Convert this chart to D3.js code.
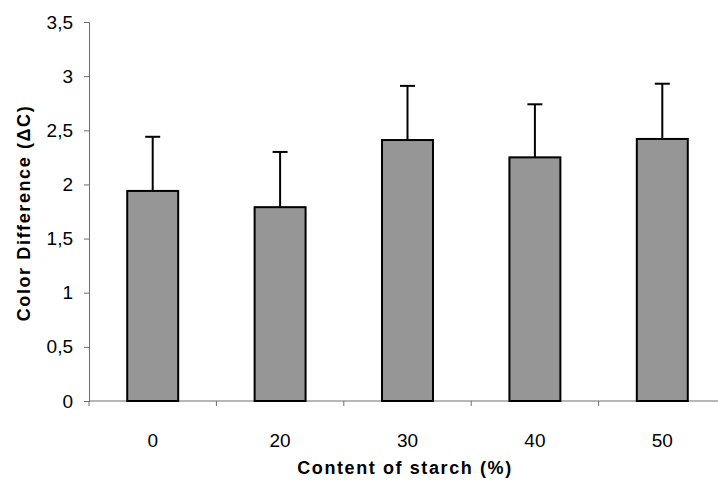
<!DOCTYPE html>
<html>
<head>
<meta charset="utf-8">
<script src="https://cdn.jsdelivr.net/npm/d3@7"></script>
<style>
  html, body { margin: 0; padding: 0; background: #fff; }
  svg { display: block; }
  text { font-family: "Liberation Sans", Arial, sans-serif; }
</style>
</head>
<body>
<svg id="chart" width="718" height="483"></svg>
<script>
const categories = ["0", "20", "30", "40", "50"];
const values = [1.94, 1.79, 2.41, 2.25, 2.42];
const errors = [0.50, 0.51, 0.50, 0.49, 0.51];
const yTicks = [0, 0.5, 1, 1.5, 2, 2.5, 3, 3.5];
const xTitle = "Content of starch (%)";
const yTitle = "Color Difference (ΔC)";

(function () {
const svg = d3.select("#chart");
const mLeft = 89, mRight = 726, mTop = 22, mBottom = 401;

const x = d3.scaleBand().domain(categories).range([mLeft, mRight])
  .paddingInner(0.6).paddingOuter(0.3);
const y = d3.scaleLinear().domain([0, 3.5]).range([mBottom, mTop]);
const fmt = d => String(d).replace(".", ",");

// Y axis
const yAxis = svg.append("g").attr("transform", `translate(${mLeft},0)`)
  .call(d3.axisLeft(y).tickValues(yTicks).tickSize(5).tickPadding(11).tickFormat(fmt));
yAxis.select(".domain").attr("stroke", "#6e6e6e").attr("stroke-width", 1);
yAxis.selectAll(".tick line").attr("stroke", "#6e6e6e");
yAxis.selectAll(".tick text").attr("font-size", 19).attr("fill", "#000")
  .attr("font-family", "'Liberation Sans', Arial, sans-serif");

// X axis baseline + boundary ticks
const step = x.step();
svg.append("line").attr("x1", mLeft).attr("x2", 718).attr("y1", mBottom).attr("y2", mBottom)
  .attr("stroke", "#6e6e6e").attr("stroke-width", 1);
svg.append("g").selectAll("line").data(categories).join("line")
  .attr("x1", d => x(d) + x.bandwidth() / 2 - step / 2)
  .attr("x2", d => x(d) + x.bandwidth() / 2 - step / 2)
  .attr("y1", mBottom).attr("y2", mBottom + 5)
  .attr("stroke", "#6e6e6e");
svg.append("g").selectAll("text").data(categories).join("text")
  .attr("x", d => x(d) + x.bandwidth() / 2)
  .attr("y", 447)
  .attr("text-anchor", "middle").attr("font-size", 19).attr("fill", "#000")
  .text(d => d);

// Error bars
const data = categories.map((c, i) => ({c, v: values[i], e: errors[i]}));
const eb = svg.append("g");
eb.selectAll("line.v").data(data).join("line").attr("class", "v")
  .attr("x1", d => x(d.c) + x.bandwidth() / 2).attr("x2", d => x(d.c) + x.bandwidth() / 2)
  .attr("y1", d => y(d.v)).attr("y2", d => y(d.v + d.e))
  .attr("stroke", "#000").attr("stroke-width", 2);
eb.selectAll("line.h").data(data).join("line").attr("class", "h")
  .attr("x1", d => x(d.c) + x.bandwidth() / 2 - 7.5).attr("x2", d => x(d.c) + x.bandwidth() / 2 + 7.5)
  .attr("y1", d => y(d.v + d.e)).attr("y2", d => y(d.v + d.e))
  .attr("stroke", "#000").attr("stroke-width", 2);

// Bars
svg.append("g").selectAll("rect").data(data).join("rect")
  .attr("x", d => x(d.c)).attr("width", x.bandwidth())
  .attr("y", d => y(d.v)).attr("height", d => y(0) - y(d.v))
  .attr("fill", "#969696").attr("stroke", "#000").attr("stroke-width", 2);

// Titles
svg.append("text").attr("x", 405).attr("y", 474).attr("text-anchor", "middle")
  .attr("font-size", 18).attr("font-weight", "bold").attr("letter-spacing", 1.6)
  .text(xTitle);
svg.append("text").attr("transform", "translate(30,213) rotate(-90)")
  .attr("text-anchor", "middle").attr("font-size", 18).attr("font-weight", "bold")
  .attr("letter-spacing", 1.6).text(yTitle);
})();
</script>
</body>
</html>
